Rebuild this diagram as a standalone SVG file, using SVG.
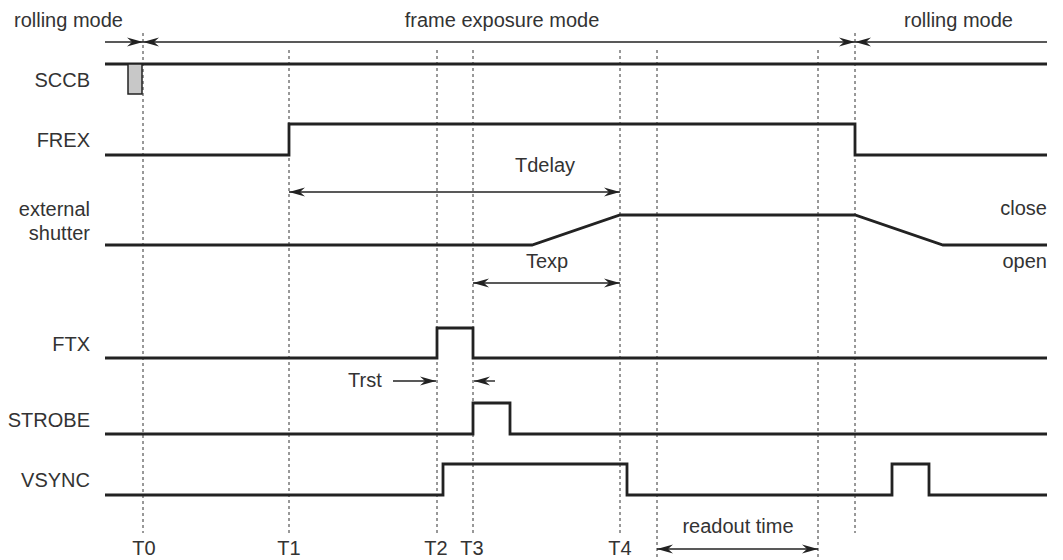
<svg xmlns="http://www.w3.org/2000/svg" width="1063" height="560" viewBox="0 0 1063 560">
<style>
text{font-family:"Liberation Sans",Arial,sans-serif;font-size:20px;fill:#333}
.lbl{text-anchor:end}
.mid{text-anchor:middle}
.sig{fill:none;stroke:#222;stroke-width:2.8;stroke-linejoin:miter}
.dash{stroke:#333;stroke-width:1;stroke-dasharray:3 3;fill:none}
.dim{stroke:#222;stroke-width:1.4;fill:none}
</style>
<defs>
<marker id="ah" viewBox="-16 -5 17 10" markerWidth="17" markerHeight="10" refX="0" refY="0" orient="auto-start-reverse" markerUnits="userSpaceOnUse">
<path d="M0,0 L-16,-4.5 L-11,0 L-16,4.5 Z" fill="#222"/>
</marker>
</defs>
<rect width="1063" height="560" fill="#fff"/>
<g id="guides">
<line class="dash" x1="143" y1="33" x2="143" y2="533"/>
<line class="dash" x1="289" y1="50" x2="289" y2="533"/>
<line class="dash" x1="437" y1="50" x2="437" y2="533"/>
<line class="dash" x1="473" y1="50" x2="473" y2="533"/>
<line class="dash" x1="620" y1="50" x2="620" y2="533"/>
<line class="dash" x1="657" y1="50" x2="657" y2="560" stroke="#777"/>
<line class="dash" x1="818" y1="50" x2="818" y2="560"/>
<line class="dash" x1="855" y1="33" x2="855" y2="533"/>
</g>
<g id="mode-labels">
<text x="14" y="27">rolling mode</text>
<text class="mid" x="502" y="27">frame exposure mode</text>
<text x="904" y="27">rolling mode</text>
</g>
<g id="connectors">
<line class="dim" x1="105" y1="42" x2="143" y2="42" marker-end="url(#ah)"/>
<line class="dim" x1="143" y1="42" x2="855" y2="42" marker-start="url(#ah)" marker-end="url(#ah)"/>
<line class="dim" x1="1047" y1="42" x2="855" y2="42" marker-end="url(#ah)"/>
<line class="dim" x1="289" y1="192" x2="620" y2="192" marker-start="url(#ah)" marker-end="url(#ah)"/>
<line class="dim" x1="473" y1="283" x2="620" y2="283" marker-start="url(#ah)" marker-end="url(#ah)"/>
<line class="dim" x1="393" y1="381" x2="436" y2="381" marker-end="url(#ah)"/>
<line class="dim" x1="495" y1="381" x2="474" y2="381" marker-end="url(#ah)"/>
<line class="dim" x1="657" y1="549" x2="818" y2="549" marker-start="url(#ah)" marker-end="url(#ah)"/>
</g>
<g id="sccb">
<text class="lbl" x="90" y="87">SCCB</text>
<polyline class="sig" points="105,64 1047,64"/>
<rect x="128" y="64" width="14" height="30" fill="#c8c8c8" stroke="#222" stroke-width="1.5"/>
</g>
<g id="frex">
<text class="lbl" x="90" y="147">FREX</text>
<polyline class="sig" points="105,155 289,155 289,124 855,124 855,155 1047,155"/>
<text class="mid" x="545" y="172">Tdelay</text>
</g>
<g id="shutter">
<text class="lbl" x="90" y="216">external</text>
<text class="lbl" x="90" y="240">shutter</text>
<polyline class="sig" points="105,245 532,245 620,215 855,215 943,245 1047,245"/>
<text class="lbl" x="1047" y="215">close</text>
<text class="lbl" x="1047" y="268">open</text>
<text class="mid" x="547" y="268">Texp</text>
</g>
<g id="ftx">
<text class="lbl" x="90" y="351">FTX</text>
<polyline class="sig" points="105,358 437,358 437,328 473,328 473,358 1047,358"/>
<text x="348" y="387">Trst</text>
</g>
<g id="strobe">
<text class="lbl" x="90" y="427">STROBE</text>
<polyline class="sig" points="105,434 473,434 473,403 510,403 510,434 1047,434"/>
</g>
<g id="vsync">
<text class="lbl" x="90" y="487">VSYNC</text>
<polyline class="sig" points="105,495 443,495 443,464 627,464 627,495 892,495 892,464 929,464 929,495 1047,495"/>
</g>
<g id="time-labels">
<text class="mid" x="144" y="555">T0</text>
<text class="mid" x="289" y="555">T1</text>
<text class="mid" x="436" y="555">T2</text>
<text class="mid" x="472" y="555">T3</text>
<text class="mid" x="620" y="555">T4</text>
<text class="mid" x="738" y="533">readout time</text>
</g>
</svg>
